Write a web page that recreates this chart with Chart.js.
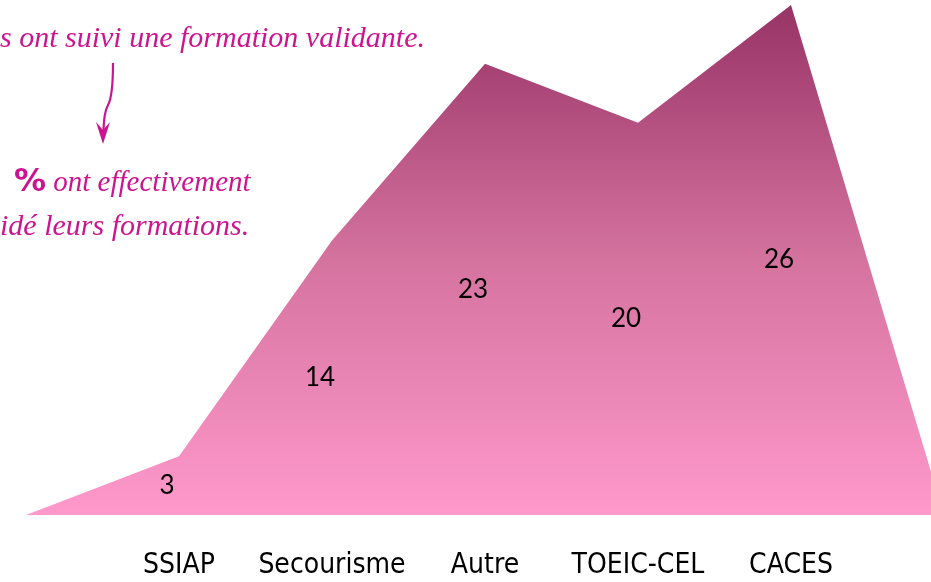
<!DOCTYPE html>
<html>
<head>
<meta charset="utf-8">
<script src="https://cdn.jsdelivr.net/npm/chart.js@4/dist/chart.umd.min.js"></script>
<style>
  html, body { margin: 0; padding: 0; background: #fff; overflow: hidden; }
  body { width: 931px; height: 582px; position: relative; }
  #wrap { position: absolute; left: 0; top: 0; width: 970px; height: 582px; }
  .note { position: absolute; color: #cc1490; font-family: "Liberation Serif", serif; font-style: italic; white-space: nowrap; line-height: 1; }
  .pct { font-family: "DejaVu Sans", sans-serif; font-style: normal; font-weight: bold; }
  #arrow { position: absolute; left: 90px; top: 60px; }
</style>
</head>
<body>
<div id="wrap"><canvas id="chart"></canvas></div>
<div class="note" style="left:0; top:22px; font-size:30px;">s ont suivi une formation validante.</div>
<svg id="arrow" width="40" height="90" viewBox="0 0 40 90">
  <path d="M23 3 C23 25 22 38 18 45 C14 52 14 62 13 78" stroke="#cc1490" stroke-width="2.2" fill="none"/>
  <path d="M6 62 L13 84 L20 62 L13 70 Z" fill="#cc1490"/>
</svg>
<div class="note" style="left:14px; top:164px; font-size:29px;"><span class="pct" style="font-size:32px;">%</span> ont effectivement</div>
<div class="note" style="left:0; top:210px; font-size:30px;">idé leurs formations.</div>
<script>
var categories = ['', 'SSIAP', 'Secourisme', 'Autre', 'TOEIC-CEL', 'CACES', ''];
var values = [0, 3, 14, 23, 20, 26, 0];

// value in the middle of each column of the area
var midLabels = {
	id: 'midLabels',
	afterDatasetsDraw: function (chart) {
		var ctx = chart.ctx;
		var meta = chart.getDatasetMeta(0);
		var bottom = chart.chartArea.bottom;
		ctx.save();
		ctx.font = '26px Lato';
		ctx.fillStyle = '#000';
		ctx.textAlign = 'center';
		ctx.textBaseline = 'middle';
		for (var i = 0; i < values.length; i++) {
			if (categories[i] == '') continue;
			var pt = meta.data[i];
			ctx.fillText(String(values[i]), pt.x - 12, (pt.y + bottom) / 2);
		}
		ctx.restore();
	}
};

var chart = new Chart(document.getElementById('chart'), {
	type: 'line',
	data: {
		labels: categories,
		datasets: [{
			data: values,
			fill: 'origin',
			tension: 0,
			borderWidth: 0,
			pointRadius: 0,
			backgroundColor: function (c) {
				var area = c.chart.chartArea;
				if (!area) return '#f7a';
				var g = c.chart.ctx.createLinearGradient(0, area.top, 0, area.bottom);
				g.addColorStop(0, '#983366');
				g.addColorStop(0.5, '#d5739f');
				g.addColorStop(1, '#ff99cc');
				return g;
			}
		}]
	},
	options: {
		responsive: true,
		maintainAspectRatio: false,
		animation: false,
		layout: { padding: { left: 17, right: 22, top: 5, bottom: 0 } },
		plugins: { legend: { display: false }, tooltip: { enabled: false } },
		scales: {
			x: {
				grid: { display: false },
				border: { display: false },
				ticks: { color: '#000', font: { family: 'DejaVu Sans Condensed', size: 28 }, padding: 26, maxRotation: 0, autoSkip: false },
				afterFit: function (s) { s.height = 67; }
			},
			y: { display: false, min: 0, max: 26 }
		}
	},
	plugins: [midLabels]
});
</script>
</body>
</html>
